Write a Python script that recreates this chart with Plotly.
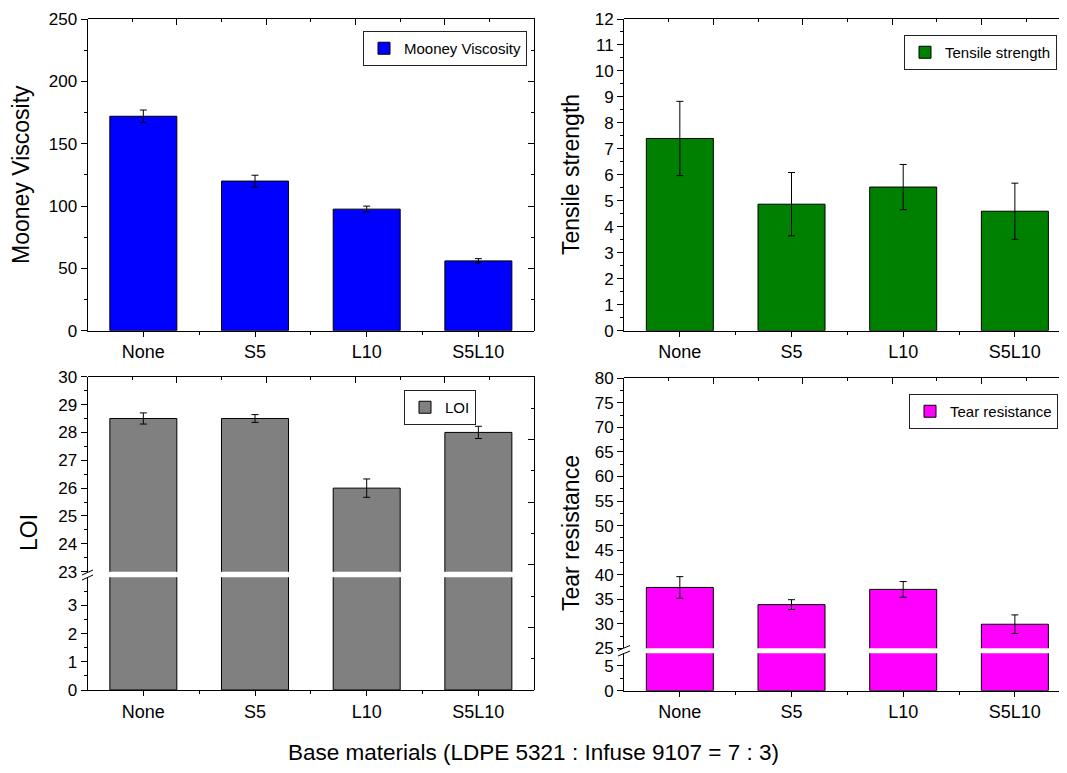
import plotly.graph_objects as go

# ---------------- data ----------------
categories = ["None", "S5", "L10", "S5L10"]

mooney = [172.0, 120.0, 97.5, 56.0]
mooney_err = [5.0, 4.7, 2.4, 1.8]

tensile = [7.4, 4.87, 5.53, 4.6]
tensile_err = [1.43, 1.22, 0.87, 1.08]

loi = [28.5, 28.5, 26.0, 28.0]
loi_err = [0.2, 0.14, 0.33, 0.22]

tear = [37.4, 33.9, 37.0, 29.9]
tear_err = [2.2, 1.0, 1.6, 1.9]

x_title = "Base materials (LDPE 5321 : Infuse 9107 = 7 : 3)"

# ---------------- layout helpers ----------------
W, H = 1067, 773
OFF = 8  # page body margin
FONT = "Liberation Sans, Arial, sans-serif"


def fx(px):
    return (px - OFF) / W


def fy(py):
    return 1 - (py - OFF) / H


xpos = list(range(1, len(categories) + 1))
xminor = [p + 0.5 for p in xpos[:-1]]


def bar(vals, err, color, name, xa, ya, legend, showlegend):
    kw = {}
    if err is not None:
        kw["error_y"] = dict(type="data", array=err, color="black",
                             thickness=1, width=3.5)
    return go.Bar(x=xpos, y=vals, width=0.6, name=name,
                  marker=dict(color=color, line=dict(color="black", width=1)),
                  xaxis=xa, yaxis=ya, legend=legend, showlegend=showlegend,
                  **kw)


def x_data(dom, rng, anchor, visible=True):
    if not visible:
        return dict(domain=dom, range=rng, anchor=anchor, visible=False,
                    showgrid=False, zeroline=False, fixedrange=True)
    return dict(domain=dom, range=rng, anchor=anchor, tickmode="array",
                tickvals=xpos, ticktext=categories, ticks="outside",
                ticklen=5, tickwidth=1, tickcolor="black", showline=True,
                linecolor="black", linewidth=1, showgrid=False,
                zeroline=False, tickfont=dict(size=18, color="black"),
                minor=dict(tickmode="array", tickvals=xminor, ticks="outside",
                           ticklen=3, tickcolor="black", showgrid=False),
                fixedrange=True)


def y_data(dom, rng, anchor, tickvals, minorvals):
    return dict(domain=dom, range=rng, anchor=anchor, tickmode="array",
                tickvals=tickvals, ticks="outside", ticklen=6, tickwidth=1,
                tickcolor="black", showline=True, linecolor="black",
                linewidth=1, showgrid=False, zeroline=False,
                tickfont=dict(size=17, color="black"),
                minor=dict(tickmode="array", tickvals=minorvals,
                           ticks="outside", ticklen=3, tickcolor="black",
                           showgrid=False),
                fixedrange=True)


def x_frame(dom, rng, anchor):
    return dict(domain=dom, range=rng, anchor=anchor, side="top",
                showticklabels=False, ticks="inside", ticklen=6, dtick=2,
                tick0=0, tickcolor="black", showline=True, linecolor="black",
                linewidth=1, showgrid=False, zeroline=False,
                minor=dict(ticks="inside", ticklen=3, dtick=1, tick0=0,
                           tickcolor="black", showgrid=False),
                fixedrange=True)


def y_frame(dom, anchor, showline=True):
    return dict(domain=dom, range=[0, 10], anchor=anchor, side="right",
                showticklabels=False, ticks="inside", ticklen=6, dtick=2,
                tick0=0, tickcolor="black", showline=showline,
                linecolor="black", linewidth=1, showgrid=False,
                zeroline=False,
                minor=dict(ticks="inside", ticklen=3, dtick=1, tick0=0,
                           tickcolor="black", showgrid=False),
                fixedrange=True)


def rng_vals(a, b, step):
    out = []
    v = a
    while v <= b + 1e-9:
        out.append(round(v, 4))
        v += step
    return out


# panel geometry (reference pixels)
L_X = [fx(87.5), fx(534.2)]
R_X = [fx(624), fx(1070.7)]
TOP_Y = [fy(330.7), fy(19)]
BL_LOW = [fy(690), fy(577.3)]
BL_UP = [fy(571.7), fy(376.7)]
BL_ALL = [fy(690), fy(376.7)]
BR_LOW = [fy(690.7), fy(653.3)]
BR_UP = [fy(648.3), fy(378.3)]
BR_ALL = [fy(690.7), fy(378.3)]

fig = go.Figure()

# top-left : Mooney viscosity
fig.add_trace(bar(mooney, mooney_err, "#0000FF", "Mooney Viscosity",
                  "x", "y", "legend", True))
fig.add_trace(go.Scatter(x=[None], y=[None], xaxis="x2", yaxis="y2",
                         showlegend=False, hoverinfo="skip"))
# top-right : Tensile strength
fig.add_trace(bar(tensile, tensile_err, "#008000", "Tensile strength",
                  "x3", "y3", "legend2", True))
fig.add_trace(go.Scatter(x=[None], y=[None], xaxis="x4", yaxis="y4",
                         showlegend=False, hoverinfo="skip"))
# bottom-left : LOI (broken axis)
fig.add_trace(bar(loi, None, "#808080", "LOI", "x5", "y5", "legend3", False))
fig.add_trace(bar(loi, loi_err, "#808080", "LOI", "x6", "y6", "legend3", True))
fig.add_trace(go.Scatter(x=[None], y=[None], xaxis="x7", yaxis="y7",
                         showlegend=False, hoverinfo="skip"))
# bottom-right : Tear resistance (broken axis)
fig.add_trace(bar(tear, None, "#FF00FF", "Tear resistance", "x8", "y8",
                  "legend4", False))
fig.add_trace(bar(tear, tear_err, "#FF00FF", "Tear resistance", "x9", "y9",
                  "legend4", True))
fig.add_trace(go.Scatter(x=[None], y=[None], xaxis="x10", yaxis="y10",
                         showlegend=False, hoverinfo="skip"))

layout = dict(
    width=W, height=H,
    margin=dict(l=0, r=0, t=0, b=0),
    paper_bgcolor="white", plot_bgcolor="rgba(0,0,0,0)",
    template="none",
    font=dict(family=FONT, color="black"),
    barmode="overlay",
    # top-left
    xaxis=x_data(L_X, [0.5, 4.5], "y"),
    yaxis=y_data(TOP_Y, [0, 250], "x", rng_vals(0, 250, 50),
                 rng_vals(25, 225, 50)),
    xaxis2=x_frame(L_X, [0, 10], "y2"),
    yaxis2=y_frame(TOP_Y, "x2"),
    # top-right
    xaxis3=x_data(R_X, [0.5, 4.5], "y3"),
    yaxis3=y_data(TOP_Y, [0, 12], "x3", rng_vals(0, 12, 1),
                  rng_vals(0.5, 11.5, 1)),
    xaxis4=x_frame(R_X, [0, 10], "y4"),
    yaxis4=y_frame(TOP_Y, "x4"),
    # bottom-left
    xaxis5=x_data(L_X, [0.5, 4.5], "y5"),
    yaxis5=y_data(BL_LOW, [0, 4], "x5", [0, 1, 2, 3], [0.5, 1.5, 2.5, 3.5]),
    xaxis6=x_data(L_X, [0.5, 4.5], "y6", visible=False),
    yaxis6=y_data(BL_UP, [23, 30], "x6", rng_vals(23, 30, 1),
                  rng_vals(23.5, 29.5, 1)),
    xaxis7=x_frame(L_X, [0, 10], "y7"),
    yaxis7=y_frame(BL_ALL, "x7"),
    # bottom-right
    xaxis8=x_data(R_X, [0.5, 4.5], "y8"),
    yaxis8=y_data(BR_LOW, [0, 7.5], "x8", [0, 5], [2.5]),
    xaxis9=x_data(R_X, [0.5, 4.5], "y9", visible=False),
    yaxis9=y_data(BR_UP, [25, 80], "x9", rng_vals(25, 80, 5),
                  rng_vals(27.5, 77.5, 5)),
    xaxis10=x_frame(R_X, [0, 10], "y10"),
    yaxis10=y_frame(BR_ALL, "x10"),
)

leg_common = dict(xanchor="right", yanchor="top", bgcolor="white",
                  bordercolor="#222222", borderwidth=1,
                  font=dict(size=15, family=FONT, color="black"),
                  itemclick=False, itemdoubleclick=False)
layout["legend"] = dict(x=fx(527), y=fy(31), **leg_common)
layout["legend2"] = dict(x=fx(1057), y=fy(35), **leg_common)
layout["legend3"] = dict(x=fx(476), y=fy(390), **leg_common)
layout["legend4"] = dict(x=fx(1058), y=fy(394), **leg_common)

fig.update_layout(**layout)

# axis titles
titles = [
    ("Mooney Viscosity", 21, 175),
    ("Tensile strength", 571, 175),
    ("LOI", 29, 533),
    ("Tear resistance", 571, 533),
]
for text, px, py in titles:
    fig.add_annotation(text=text, x=fx(px), y=fy(py), xref="paper",
                       yref="paper", showarrow=False, textangle=-90,
                       xanchor="center", yanchor="middle",
                       font=dict(size=23, family=FONT, color="black"))

fig.add_annotation(text=x_title, x=fx(533), y=fy(752), xref="paper",
                   yref="paper", showarrow=False, xanchor="center",
                   yanchor="middle",
                   font=dict(size=22.5, family=FONT, color="black"))

# axis-break marks
breaks = [
    ((82, 575), (93, 570)), ((82, 580), (93, 575)),
    ((618, 650.5), (630, 645.5)), ((618, 656), (630, 651)),
]
for (x0, y0), (x1, y1) in breaks:
    fig.add_shape(type="line", xref="paper", yref="paper",
                  x0=fx(x0), y0=fy(y0), x1=fx(x1), y1=fy(y1),
                  line=dict(color="black", width=1), layer="above")

fig.write_html("out.html")
